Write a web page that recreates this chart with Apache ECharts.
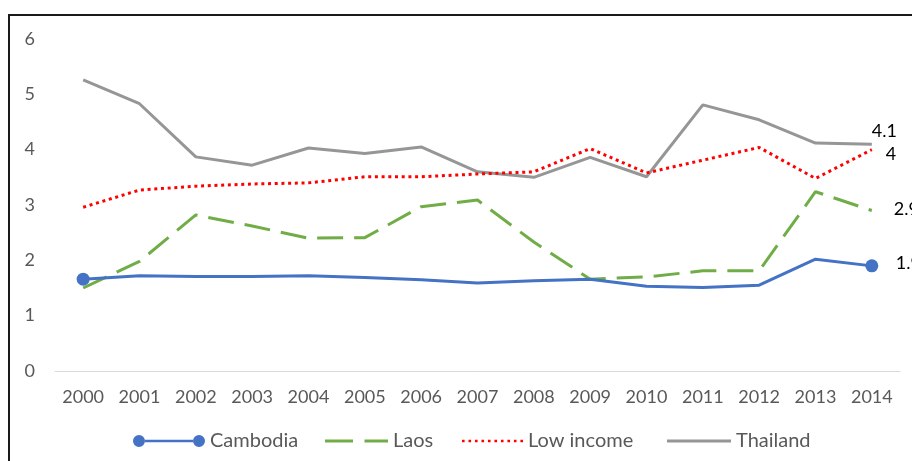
<!DOCTYPE html>
<html>
<head>
<meta charset="utf-8">
<script src="https://cdn.jsdelivr.net/npm/echarts@6/dist/echarts.min.js"></script>
<style>
  html, body { margin: 0; padding: 0; background: #fff; }
  #chart { width: 912px; height: 461px; }
</style>
</head>
<body>
<div id="chart"></div>
<script>
// data
const years = ['2000', '2001', '2002', '2003', '2004', '2005', '2006', '2007', '2008', '2009', '2010', '2011', '2012', '2013', '2014'];
const cambodia = [1.66, 1.72, 1.71, 1.71, 1.72, 1.69, 1.65, 1.59, 1.63, 1.66, 1.53, 1.51, 1.55, 2.02, 1.9];
const laos = [1.5, 1.98, 2.82, 2.62, 2.4, 2.41, 2.97, 3.09, 2.33, 1.66, 1.7, 1.81, 1.81, 3.24, 2.9];
const lowIncome = [2.96, 3.27, 3.34, 3.38, 3.4, 3.51, 3.51, 3.56, 3.6, 4.02, 3.58, 3.81, 4.04, 3.48, 4.0];
const thailand = [5.26, 4.83, 3.87, 3.72, 4.03, 3.93, 4.05, 3.6, 3.5, 3.86, 3.51, 4.81, 4.54, 4.12, 4.1];
const yTicks = [0, 1, 2, 3, 4, 5, 6];

const font = 'Lato, "Open Sans", sans-serif';
const last = years.length - 1;

let myChart = echarts.init(document.getElementById('chart'));

function endLabel(dx, dy) {
  return {
    show: true,
    formatter: p => String(p.value),
    color: '#000',
    fontSize: 18,
    fontFamily: font,
    offset: [dx, dy]
  };
}

// legend icon paths (excel style)
let dots = '';
for (let i = 0; i < 10; i++) {
  const x = i * 6.5;
  dots += 'M' + x + ',0 h2.6 v2.6 h-2.6 Z ';
}
const icons = {
  cambodia: 'path://M0,6 a6,6 0 1,0 12,0 a6,6 0 1,0 -12,0 Z M60,6 a6,6 0 1,0 12,0 a6,6 0 1,0 -12,0 Z M12,4.7 L60,4.7 L60,7.3 L12,7.3 Z',
  laos: 'path://M0,0 h28 v3 h-28 Z M39.5,0 h23.5 v3 h-23.5 Z',
  low: 'path://' + dots,
  thai: 'path://M0,0 h64 v3 h-64 Z'
};

const legendText = { color: '#595959', fontSize: 20, fontFamily: font };

function legendItem(name, left, w, h, icon) {
  return {
    data: [{ name: name, icon: icon }],
    left: left, top: 431,
    padding: 0,
    itemWidth: w, itemHeight: h,
    itemStyle: { borderWidth: 0 },
    textStyle: legendText
  };
}

myChart.setOption({
  animation: false,
  backgroundColor: '#fff',
  grid: { left: 55, right: 12, top: 39, bottom: 90 },
  graphic: [{
    type: 'rect',
    shape: { x: 9, y: 15, width: 1000, height: 1000 },
    style: { fill: 'none', stroke: '#1a1a1a', lineWidth: 2 },
    silent: true
  }],
  legend: [
    legendItem('Cambodia', 133, 72, 12, icons.cambodia),
    legendItem('Laos', 325, 63, 3, icons.laos),
    legendItem('Low income', 462, 61, 2.6, icons.low),
    legendItem('Thailand', 667, 64, 3, icons.thai)
  ],
  xAxis: {
    type: 'category',
    data: years,
    boundaryGap: true,
    axisTick: { show: false },
    axisLine: { lineStyle: { color: '#d9d9d9', width: 1 } },
    axisLabel: { color: '#595959', fontSize: 18, fontFamily: font, margin: 17 }
  },
  yAxis: {
    type: 'value',
    min: yTicks[0],
    max: yTicks[yTicks.length - 1],
    interval: 1,
    splitLine: { show: false },
    axisLine: { show: false },
    axisTick: { show: false },
    axisLabel: { color: '#595959', fontSize: 18, fontFamily: font, margin: 20 }
  },
  series: [{
    name: 'Cambodia',
    type: 'line',
    data: cambodia,
    symbol: 'circle',
    symbolSize: (v, p) => (p.dataIndex === 0 || p.dataIndex === last) ? 13 : 0,
    itemStyle: { color: '#4472C4' },
    lineStyle: { color: '#4472C4', width: 3 },
    endLabel: endLabel(16, -3),
    z: 5
  }, {
    name: 'Laos',
    type: 'line',
    data: laos,
    symbol: 'none',
    itemStyle: { color: '#70AD47' },
    lineStyle: { color: '#70AD47', width: 3, type: [26, 11] },
    endLabel: endLabel(14, -1),
    z: 4
  }, {
    name: 'Low income',
    type: 'line',
    data: lowIncome,
    symbol: 'none',
    itemStyle: { color: '#FF0000' },
    lineStyle: { color: '#FF0000', width: 3, type: [3, 3.7] },
    endLabel: endLabel(6, 5),
    z: 3
  }, {
    name: 'Thailand',
    type: 'line',
    data: thailand,
    symbol: 'none',
    itemStyle: { color: '#969696' },
    lineStyle: { color: '#969696', width: 3 },
    endLabel: endLabel(-8, -13),
    z: 2
  }]
});
</script>
</body>
</html>
